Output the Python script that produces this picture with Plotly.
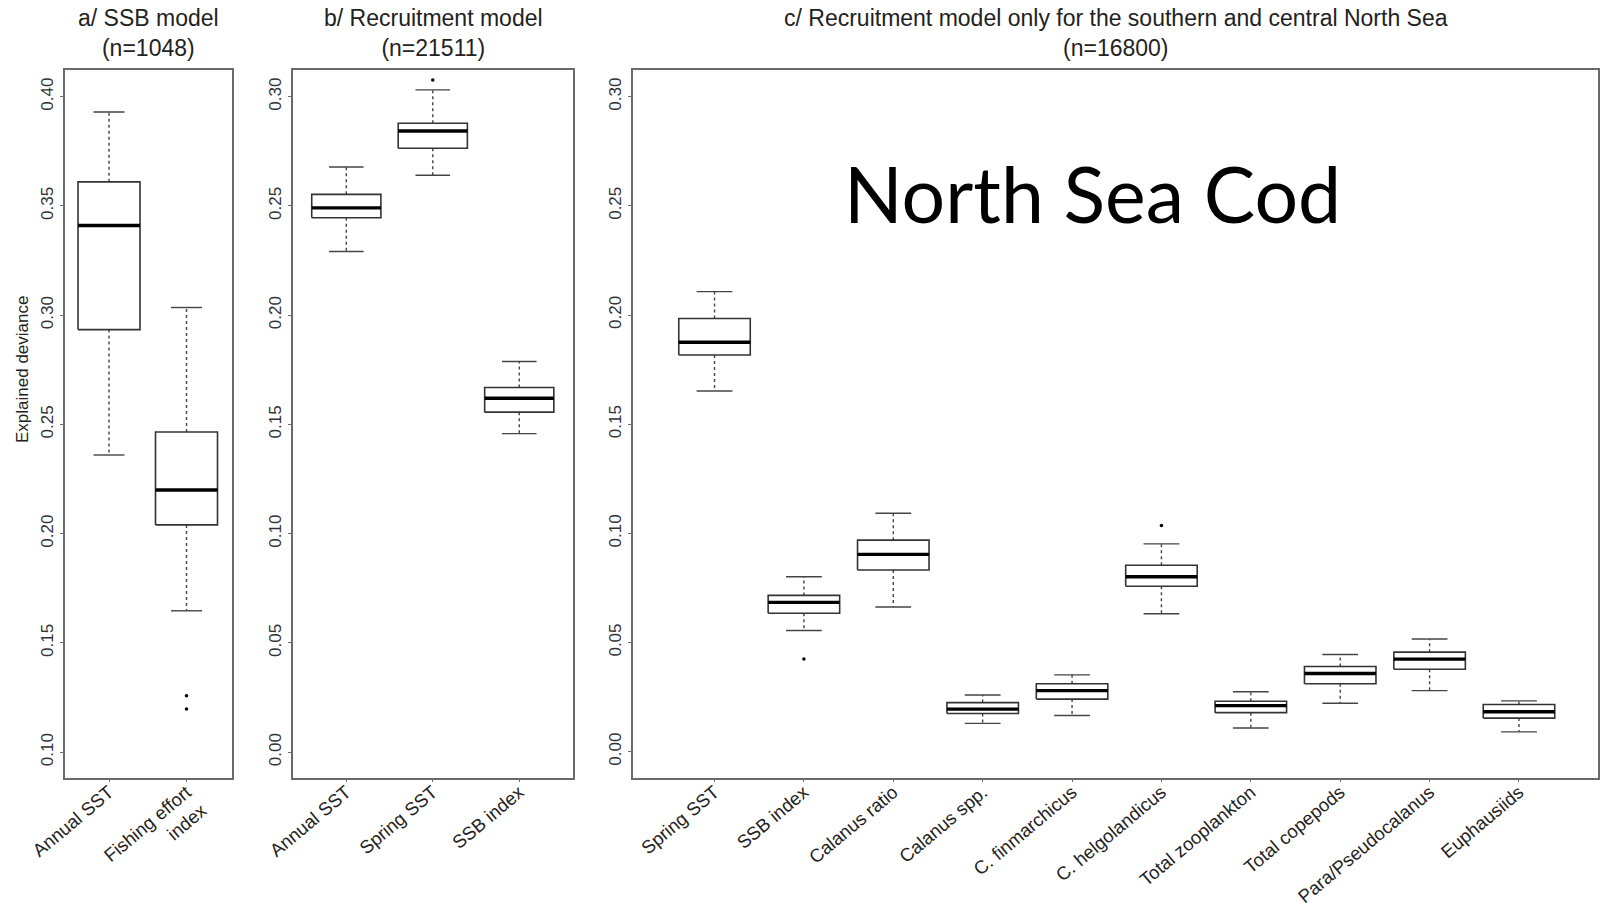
import plotly.graph_objects as go

# ---------------- data ----------------
a_cats = ["Annual SST", "Fishing effort<br> index"]
a_lo = [0.236, 0.1647]
a_q1 = [0.2934, 0.204]
a_med = [0.341, 0.220]
a_q3 = [0.361, 0.2465]
a_hi = [0.393, 0.3035]
a_out = [[], [0.1258, 0.1197]]

b_cats = ["Annual SST", "Spring SST", "SSB index"]
b_lo = [0.2291, 0.264, 0.1458]
b_q1 = [0.2446, 0.2764, 0.1556]
b_med = [0.2491, 0.2843, 0.1620]
b_q3 = [0.2553, 0.2878, 0.1669]
b_hi = [0.2678, 0.3031, 0.1788]
b_out = [[], [0.3076], []]

c_cats = ["Spring SST", "SSB index", "Calanus ratio", "Calanus spp.", "C. finmarchicus",
          "C. helgolandicus", "Total zooplankton", "Total copepods", "Para/Pseudocalanus",
          "Euphausiids"]
c_lo = [0.1652, 0.0555, 0.0663, 0.013, 0.0166, 0.0632, 0.0109, 0.0222, 0.028, 0.0091]
c_q1 = [0.1817, 0.0634, 0.0832, 0.0175, 0.0241, 0.0758, 0.0179, 0.0311, 0.0378, 0.0154]
c_med = [0.1875, 0.0684, 0.0904, 0.0195, 0.028, 0.0801, 0.0211, 0.0358, 0.0424, 0.0183]
c_q3 = [0.1984, 0.0716, 0.0969, 0.0225, 0.0311, 0.0854, 0.0231, 0.039, 0.0456, 0.0216]
c_hi = [0.2107, 0.0801, 0.1092, 0.026, 0.0352, 0.0952, 0.0275, 0.0445, 0.0516, 0.0233]
c_out = [[], [0.0425], [], [], [], [0.1036], [], [], [], []]

a_ticks = [0.10, 0.15, 0.20, 0.25, 0.30, 0.35, 0.40]
bc_ticks = [0.00, 0.05, 0.10, 0.15, 0.20, 0.25, 0.30]

titles = ["a/ SSB model<br>(n=1048)", "b/ Recruitment model<br>(n=21511)",
          "c/ Recruitment model only for the southern and central North Sea<br>(n=16800)"]

# ---------------- style ----------------
W, H = 1600, 910
FONT = "Liberation Sans, Arial, Helvetica, sans-serif"
TXT = "#222222"
FRAME = "#6a6a6a"
BOXC = "#333333"
HALF = 0.4
CAP = 0.2


def panel_traces(xa, ya, lo, q1, med, q3, hi, out):
    bx, by, mx, my, wx, wy, cx, cy, ox, oy = [], [], [], [], [], [], [], [], [], []
    for i in range(len(med)):
        x = i + 1
        bx += [x - HALF, x + HALF, x + HALF, x - HALF, x - HALF, None]
        by += [q1[i], q1[i], q3[i], q3[i], q1[i], None]
        mx += [x - HALF, x + HALF, None]
        my += [med[i], med[i], None]
        wx += [x, x, None, x, x, None]
        wy += [q3[i], hi[i], None, q1[i], lo[i], None]
        cx += [x - CAP, x + CAP, None, x - CAP, x + CAP, None]
        cy += [hi[i], hi[i], None, lo[i], lo[i], None]
        for v in out[i]:
            ox.append(x)
            oy.append(v)
    common = dict(xaxis=xa, yaxis=ya, showlegend=False, hoverinfo="skip")
    return [
        go.Scatter(x=wx, y=wy, mode="lines", line=dict(color="#444444", width=1.4, dash="3px,3px"), **common),
        go.Scatter(x=cx, y=cy, mode="lines", line=dict(color="#444444", width=1.4), **common),
        go.Scatter(x=bx, y=by, mode="lines", line=dict(color=BOXC, width=1.6), **common),
        go.Scatter(x=mx, y=my, mode="lines", line=dict(color="#000000", width=3.4), **common),
        go.Scatter(x=ox, y=oy, mode="markers", marker=dict(color="#000000", size=3.5), **common),
    ]


fig = go.Figure()
for t in panel_traces("x", "y", a_lo, a_q1, a_med, a_q3, a_hi, a_out):
    fig.add_trace(t)
for t in panel_traces("x2", "y2", b_lo, b_q1, b_med, b_q3, b_hi, b_out):
    fig.add_trace(t)
for t in panel_traces("x3", "y3", c_lo, c_q1, c_med, c_q3, c_hi, c_out):
    fig.add_trace(t)

# pixel geometry of the panels
px = [(65, 232), (292.7, 573.3), (633, 1598)]
ytop, ybot = 70, 777.5
ydom = [1 - ybot / H, 1 - ytop / H]
xranges = [[0.432, 2.587], [0.38, 3.625], [0.088, 10.884]]
yranges = [[0.0884, 0.4122], [-0.0116, 0.3122], [-0.0118, 0.3122]]
cats = [a_cats, b_cats, c_cats]
yticks = [a_ticks, bc_ticks, bc_ticks]

layout = dict(
    width=W, height=H,
    margin=dict(l=0, r=0, t=0, b=0),
    paper_bgcolor="white", plot_bgcolor="white",
    font=dict(family=FONT, color=TXT),
)
for k in range(3):
    sx = "" if k == 0 else str(k + 1)
    layout["xaxis" + sx] = dict(
        domain=[px[k][0] / W, px[k][1] / W], range=xranges[k],
        anchor="y" + sx, showgrid=False, zeroline=False, automargin=False,
        showline=True, mirror=True, linecolor=FRAME, linewidth=1.6,
        tickmode="array", tickvals=list(range(1, len(cats[k]) + 1)), ticktext=cats[k],
        ticks="outside", ticklen=3, tickcolor=FRAME, tickwidth=1,
        ticklabelstandoff=-8,
        tickangle=-40, tickfont=dict(size=18.5, color=TXT, family=FONT),
    )
    layout["yaxis" + sx] = dict(
        domain=ydom, range=yranges[k], anchor="x" + sx,
        showgrid=False, zeroline=False, automargin=False,
        showline=True, mirror=True, linecolor=FRAME, linewidth=1.6,
        tickmode="array", tickvals=yticks[k], ticktext=["%.2f" % v for v in yticks[k]],
        ticks="outside", ticklen=3, tickcolor=FRAME, tickwidth=1,
        tickangle=-90, tickfont=dict(size=17, color="#333333", family=FONT),
    )
fig.update_layout(**layout)

ann = []
for k in range(3):
    ann.append(dict(
        text=titles[k], x=(px[k][0] + px[k][1]) / 2 / W, y=1 - 3 / H,
        xref="paper", yref="paper", xanchor="center", yanchor="top",
        showarrow=False, font=dict(size=23, color=TXT, family=FONT), align="center",
    ))
ann.append(dict(
    text="Explained deviance", x=22 / W, y=1 - 370 / H, xref="paper", yref="paper",
    xanchor="center", yanchor="middle", textangle=-90, showarrow=False,
    font=dict(size=17, color=TXT, family=FONT),
))
ann.append(dict(
    text="North Sea Cod", x=1092 / W, y=1 - 193 / H, xref="paper", yref="paper",
    xanchor="center", yanchor="middle", showarrow=False,
    font=dict(size=77, color="#000000", family="Lato, Open Sans, sans-serif"),
))
fig.update_layout(annotations=ann)

fig.write_html("out.html")
